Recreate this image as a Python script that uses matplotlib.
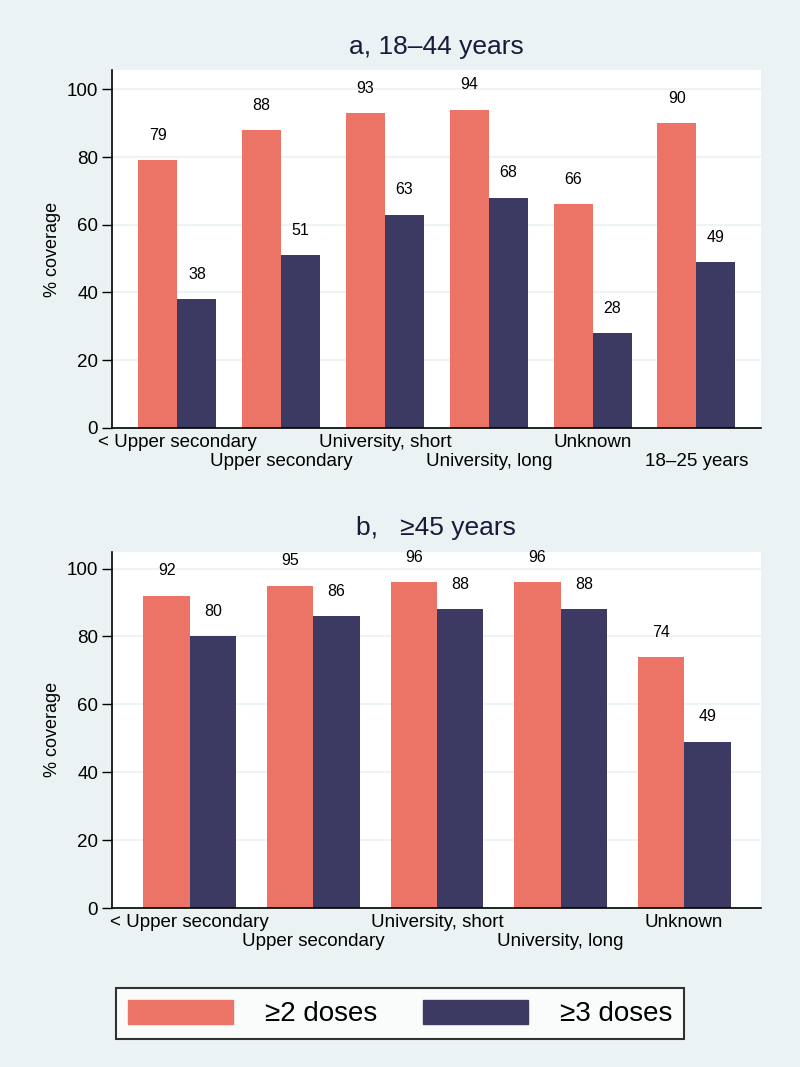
import matplotlib.pyplot as plt
import numpy as np
from matplotlib.patches import Patch

plt.rcParams["font.family"] = ["Liberation Sans", "DejaVu Sans"]

BG = "#EAF2F3"
RED = "#EB7466"
NAVY = "#3C3A62"

cats_a = ["< Upper secondary", "Upper secondary", "University, short",
          "University, long", "Unknown", "18\u201325 years"]
dose2_a = [79, 88, 93, 94, 66, 90]
dose3_a = [38, 51, 63, 68, 28, 49]

cats_b = ["< Upper secondary", "Upper secondary", "University, short",
          "University, long", "Unknown"]
dose2_b = [92, 95, 96, 96, 74]
dose3_b = [80, 86, 88, 88, 49]


def draw_panel(ax, cats, d2, d3, title, ytop):
    x = np.arange(len(cats))
    w = 0.376
    ax.bar(x - w / 2, d2, w, color=RED, zorder=2)
    ax.bar(x + w / 2, d3, w, color=NAVY, zorder=2)
    for xi, a, b in zip(x, d2, d3):
        ax.text(xi - w / 2, a + 7.3, str(a), ha="center", va="center", fontsize=11.5)
        ax.text(xi + w / 2, b + 7.3, str(b), ha="center", va="center", fontsize=11.5)
    ax.set_xlim(-0.63, len(cats) - 1 + 0.62)
    ax.set_ylim(0, ytop)
    ax.set_yticks([0, 20, 40, 60, 80, 100])
    ax.tick_params(axis="y", labelsize=13.5, length=7, width=1, direction="out", pad=3)
    ax.set_xticks(x)
    ax.set_xticklabels(cats)
    ax.tick_params(axis="x", labelsize=13.5, length=0)
    # staggered category labels, as in the original
    for i, tick in enumerate(ax.xaxis.get_major_ticks()):
        tick.set_pad(4.5 if i % 2 == 0 else 18)
    ax.set_ylabel("% coverage", fontsize=13, labelpad=4)
    ax.set_title(title, fontsize=19, color="#1a1a3a", pad=12)
    ax.grid(axis="y", color=BG, lw=1.2, zorder=0)
    ax.set_axisbelow(True)
    for s in ["top", "right"]:
        ax.spines[s].set_visible(False)
    for s in ["left", "bottom"]:
        ax.spines[s].set_linewidth(1.2)


fig = plt.figure(figsize=(8, 10.67), dpi=100, facecolor=BG)
ax1 = fig.add_axes([0.14, 0.599, 0.811, 0.335])
ax2 = fig.add_axes([0.14, 0.149, 0.811, 0.334])

draw_panel(ax1, cats_a, dose2_a, dose3_a, "a, 18\u201344 years", 105.6)
draw_panel(ax2, cats_b, dose2_b, dose3_b, "b,   \u226545 years", 105.0)

handles = [Patch(color=RED, label="\u22652 doses"), Patch(color=NAVY, label="\u22653 doses")]
leg = fig.legend(handles=handles, loc="center", bbox_to_anchor=(0.5, 0.0501), ncol=2,
                 fontsize=20, frameon=True, fancybox=False, edgecolor="black",
                 handlelength=3.78, handleheight=0.97, columnspacing=1.65, handletextpad=1.15,
                 borderpad=0.42, borderaxespad=0)
leg.get_frame().set_linewidth(1.5)
leg.get_frame().set_facecolor("white")

fig.savefig("out.png", dpi=100, facecolor=BG)
